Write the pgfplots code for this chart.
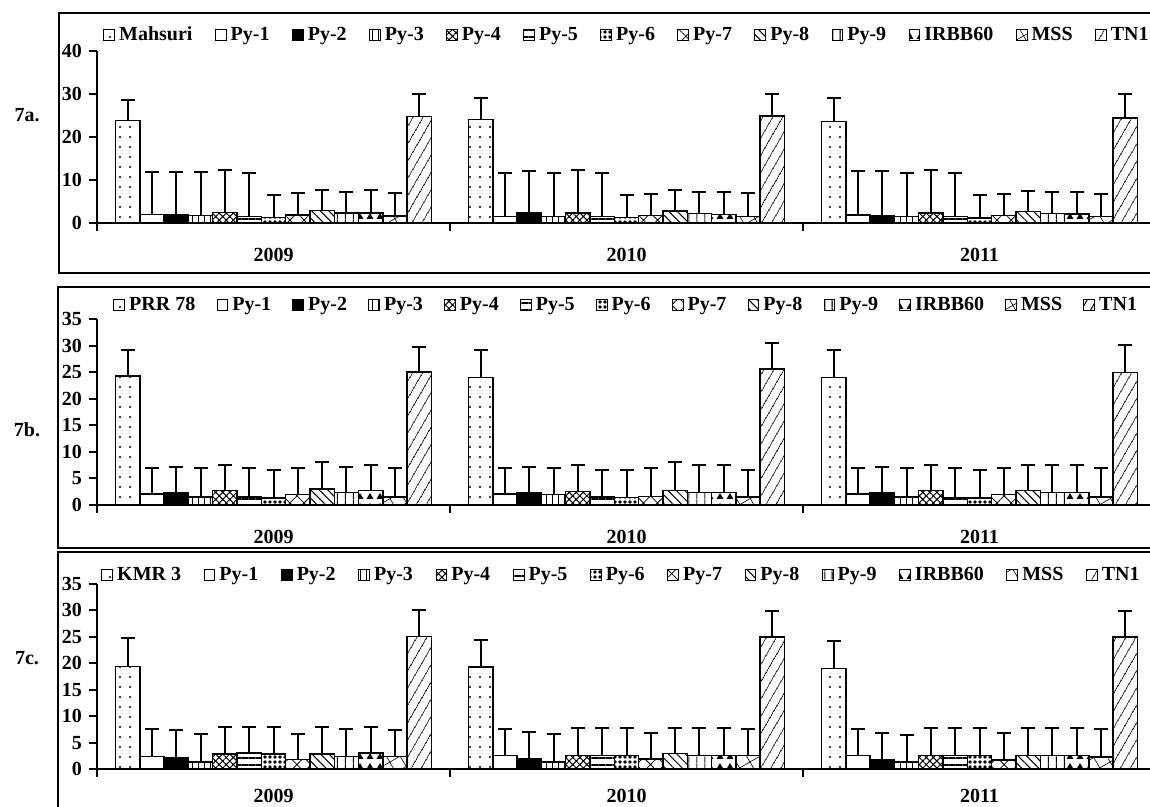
\documentclass[border=0pt]{standalone}
\usepackage{fontspec}
\setmainfont{Liberation Serif}
\usepackage{pgfplots}
\pgfplotsset{compat=1.18}
\usepackage{pgfplotstable}
\usetikzlibrary{patterns,patterns.meta}

\tikzset{
 sA/.style={draw=black, pattern={Dots[distance=5pt,radius=0.55pt]}, pattern color=black},
 sB/.style={draw=black, fill=white},
 sC/.style={draw=black, fill=black},
 sD/.style={draw=black, pattern={Lines[angle=90,distance=3pt,line width=0.5pt]}, pattern color=black},
 sE/.style={draw=black, pattern={Hatch[angle=45,distance=2.5pt,line width=0.5pt]}, pattern color=black},
 sF/.style={draw=black, pattern={Lines[angle=0,distance=3.5pt,line width=0.6pt]}, pattern color=black},
 sG/.style={draw=black, pattern={Dots[distance=2.5pt,radius=0.9pt]}, pattern color=black},
 sH/.style={draw=black, pattern={Hatch[angle=45,distance=5pt,line width=0.4pt]}, pattern color=black},
 sI/.style={draw=black, pattern={Lines[angle=-45,distance=3pt,line width=0.5pt]}, pattern color=black},
 sJ/.style={draw=black, pattern={Lines[angle=90,distance=4pt,line width=0.6pt]}, pattern color=black},
 sK/.style={draw=black, pattern={Stars[distance=5pt,radius=2pt,points=3]}, pattern color=black},
 sL/.style={draw=black, pattern={Hatch[angle=30,distance=6pt,line width=0.3pt]}, pattern color=black},
 sM/.style={draw=black, pattern={Lines[angle=60,distance=4pt,line width=0.5pt]}, pattern color=black},
}

\pgfplotstableread{
x v0 e0 v1 e1 v2 e2 v3 e3 v4 e4 v5 e5 v6 e6 v7 e7 v8 e8 v9 e9 v10 e10 v11 e11 v12 e12
0 23.8 4.9 2.0 9.9 2.0 9.9 1.8 10.1 2.5 9.9 1.5 10.2 1.3 5.2 1.9 5.0 2.9 4.7 2.3 4.9 2.3 5.3 1.6 5.3 24.7 5.2
1 24.1 5.0 1.5 10.1 2.5 9.7 1.5 10.1 2.3 10.0 1.5 10.1 1.3 5.1 1.8 5.0 2.8 4.8 2.2 4.9 2.0 5.2 1.5 5.4 24.9 5.0
2 23.6 5.4 1.9 10.1 1.8 10.2 1.5 10.1 2.3 10.0 1.5 10.1 1.2 5.2 1.8 5.0 2.7 4.8 2.2 4.9 2.1 5.0 1.5 5.3 24.4 5.5
}\tA
\pgfplotstableread{
x v0 e0 v1 e1 v2 e2 v3 e3 v4 e4 v5 e5 v6 e6 v7 e7 v8 e8 v9 e9 v10 e10 v11 e11 v12 e12
0 24.3 4.9 2.1 4.8 2.4 4.8 1.5 5.4 2.7 4.9 1.5 5.4 1.3 5.3 2.0 4.9 3.0 5.0 2.4 4.8 2.7 4.9 1.5 5.4 25.0 4.8
1 24.0 5.2 2.1 4.8 2.4 4.8 2.0 4.9 2.5 5.1 1.5 5.1 1.4 5.2 1.6 5.3 2.7 5.3 2.4 5.2 2.4 5.2 1.5 5.1 25.6 4.8
2 24.0 5.1 2.1 4.8 2.4 4.8 1.5 5.4 2.7 4.9 1.3 5.6 1.3 5.3 2.0 4.9 2.7 4.9 2.4 5.2 2.4 5.2 1.5 5.4 24.9 5.2
}\tB
\pgfplotstableread{
x v0 e0 v1 e1 v2 e2 v3 e3 v4 e4 v5 e5 v6 e6 v7 e7 v8 e8 v9 e9 v10 e10 v11 e11 v12 e12
0 19.4 5.3 2.4 5.2 2.1 5.2 1.3 5.4 2.8 5.1 3.0 4.9 2.8 5.1 1.8 4.9 2.8 5.1 2.4 5.2 3.0 4.9 2.4 4.9 25.1 4.9
1 19.3 5.1 2.6 4.9 1.9 5.1 1.3 5.3 2.6 5.2 2.6 5.2 2.6 5.2 1.9 4.9 2.9 4.9 2.5 5.2 2.5 5.2 2.5 5.0 25.0 4.8
2 19.0 5.3 2.5 5.0 1.8 5.1 1.3 5.2 2.5 5.3 2.5 5.3 2.5 5.3 1.7 5.1 2.5 5.3 2.5 5.3 2.6 5.2 2.3 5.2 25.0 4.8
}\tC

\pgfplotsset{
 panel/.style={
  scale only axis, width=529.5pt,
  xmin=-0.5, xmax=2.5, ymin=0,
  axis x line=bottom, axis y line=left,
  axis line style={-, line width=1pt},
  ybar=0pt, bar width=12.15pt,
  legend image code/.code={\draw[##1, line width=0.5pt] (0pt,-2.7pt) rectangle (5.4pt,2.7pt);},
  xtick={-0.5,0.5,1.5}, xticklabels={,,},
  extra x ticks={0,1,2}, extra x tick labels={2009,2010,2011},
  extra x tick style={major tick length=0pt},
  xticklabel style={yshift=-9pt},
  tick align=outside, major tick length=4pt,
  tick style={line width=1pt, black},
  ticklabel style={font=\bfseries},
  /pgf/number format/assume math mode=true,
  cycle list={{sA},{sB},{sC},{sD},{sE},{sF},{sG},{sH},{sI},{sJ},{sK},{sL},{sM}},
  every axis plot/.append style={line width=0.7pt},
  error bars/y dir=plus, error bars/y explicit,
  error bars/error bar style={line width=1pt, black},
  error bars/error mark options={rotate=90, mark size=3.5pt, line width=1pt, black},
  legend columns=13,
  legend style={draw=none, fill=none, font=\bfseries, inner xsep=0pt},
  clip=false,
 }
}

\begin{document}
\begin{tikzpicture}
\path[use as bounding box] (0,0) rectangle (575pt,403.5pt);
\clip (0,0) rectangle (575pt,403.5pt);
\draw[line width=1pt] (29.5pt,397pt) rectangle (590pt,267pt);
\draw[line width=1pt] (29pt,260pt) rectangle (590pt,129.5pt);
\draw[line width=1pt] (29pt,127.5pt) rectangle (590pt,-10pt);
\node[font=\bfseries] at (13.5pt,346pt) {7a.};
\node[font=\bfseries] at (13.5pt,188.5pt) {7b.};
\node[font=\bfseries] at (13.5pt,74.5pt) {7c.};

\begin{axis}[panel, at={(48.5pt,292pt)}, anchor=south west, height=86pt,
  ymax=40, ytick={0,10,20,30,40},
  legend style={at={(0,1)}, anchor=west, xshift=3pt, yshift=8pt,
    /tikz/every even column/.append style={column sep=9.2pt}}]
\pgfplotsinvokeforeach{0,...,12}{\addplot table[x=x,y=v#1,y error=e#1]{\tA};}
\legend{Mahsuri,Py-1,Py-2,Py-3,Py-4,Py-5,Py-6,Py-7,Py-8,Py-9,IRBB60,MSS,TN1}
\end{axis}

\begin{axis}[panel, at={(48.5pt,151pt)}, anchor=south west, height=93pt,
  ymax=35, ytick={0,5,...,35},
  legend style={at={(0,1)}, anchor=west, xshift=8pt, yshift=7pt,
    /tikz/every even column/.append style={column sep=8.6pt}}]
\pgfplotsinvokeforeach{0,...,12}{\addplot table[x=x,y=v#1,y error=e#1]{\tB};}
\legend{PRR 78,Py-1,Py-2,Py-3,Py-4,Py-5,Py-6,Py-7,Py-8,Py-9,IRBB60,MSS,TN1}
\end{axis}

\begin{axis}[panel, at={(48.5pt,19pt)}, anchor=south west, height=92.5pt,
  ymax=35, ytick={0,5,...,35},
  extra x tick style={xticklabel style={yshift=2.5pt}},
  legend style={at={(0,1)}, anchor=west, xshift=2pt, yshift=4.5pt,
    /tikz/every even column/.append style={column sep=9.3pt}}]
\pgfplotsinvokeforeach{0,...,12}{\addplot table[x=x,y=v#1,y error=e#1]{\tC};}
\legend{KMR 3,Py-1,Py-2,Py-3,Py-4,Py-5,Py-6,Py-7,Py-8,Py-9,IRBB60,MSS,TN1}
\end{axis}
\end{tikzpicture}
\end{document}
